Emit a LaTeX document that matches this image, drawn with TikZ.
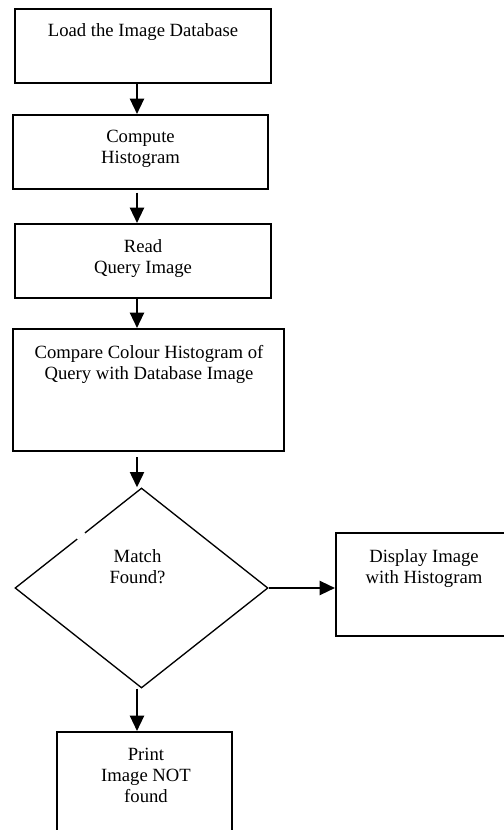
\documentclass[tikz,border=0pt]{standalone}
\usepackage{fontspec}
\setmainfont{Liberation Serif}
\usetikzlibrary{shapes.geometric,arrows.meta}
\begin{document}
\begin{tikzpicture}[x=0.75pt,y=-0.75pt,
  procbox/.style={draw=black,line width=1.5pt,rectangle,inner sep=0pt},
  decision/.style={draw=black,line width=1pt,diamond,inner sep=0pt},
  lbl/.style={font=\fontsize{14}{15.75}\selectfont,align=center,inner sep=0pt,anchor=base},
  arr/.style={line width=1.7pt,-{Triangle[width=10.5pt,length=11.5pt]}}]
\useasboundingbox (0,0) rectangle (503,830);
\node[procbox,minimum width=192pt,minimum height=55.5pt] (b1) at (143,46) {};
\node[procbox,minimum width=191.25pt,minimum height=55.5pt] (b2) at (140.5,152) {};
\node[procbox,minimum width=192pt,minimum height=55.5pt] (b3) at (143,261) {};
\node[procbox,minimum width=203.25pt,minimum height=91.5pt] (b4) at (148.5,390) {};
\node[decision,minimum width=189.75pt,minimum height=150pt] (d) at (141.5,588) {};
\node[procbox,minimum width=132pt,minimum height=77.25pt] (b5) at (424,584.5) {};
\node[procbox,minimum width=131.25pt,minimum height=90pt] (b6) at (144.5,792) {};
% small break in the diamond's upper-left edge
\draw[white,line width=2.6pt] (77,538.5) -- (84.5,532.5);
\node[lbl] (t1) at (143,37) {Load the Image Database};
\node[lbl] (t2) at (140.5,164) {Compute\\Histogram};
\node[lbl] (t3) at (143,273) {Read\\Query Image};
\node[lbl] (t4) at (149,379) {Compare Colour Histogram of\\Query with Database Image};
\node[lbl] (td) at (137.5,583) {Match\\Found?};
\node[lbl] (t5) at (424,583) {Display Image\\with Histogram};
\node[lbl] (t6) at (146,802) {Print\\Image NOT\\found};
\coordinate (xa) at (137,0);
\draw[arr] (xa |- b1.south) -- (xa |- b2.north);
\draw[arr,shorten <=2pt] (xa |- b2.south) -- (xa |- b3.north);
\draw[arr] (xa |- b3.south) -- (xa |- b4.north);
\draw[arr,shorten <=3.75pt] (xa |- b4.south) -- (xa |- d.north);
\draw[arr] (d.east) -- (d.east -| b5.west);
\draw[arr] (xa |- d.south) -- (xa |- b6.north);
\end{tikzpicture}
\end{document}
